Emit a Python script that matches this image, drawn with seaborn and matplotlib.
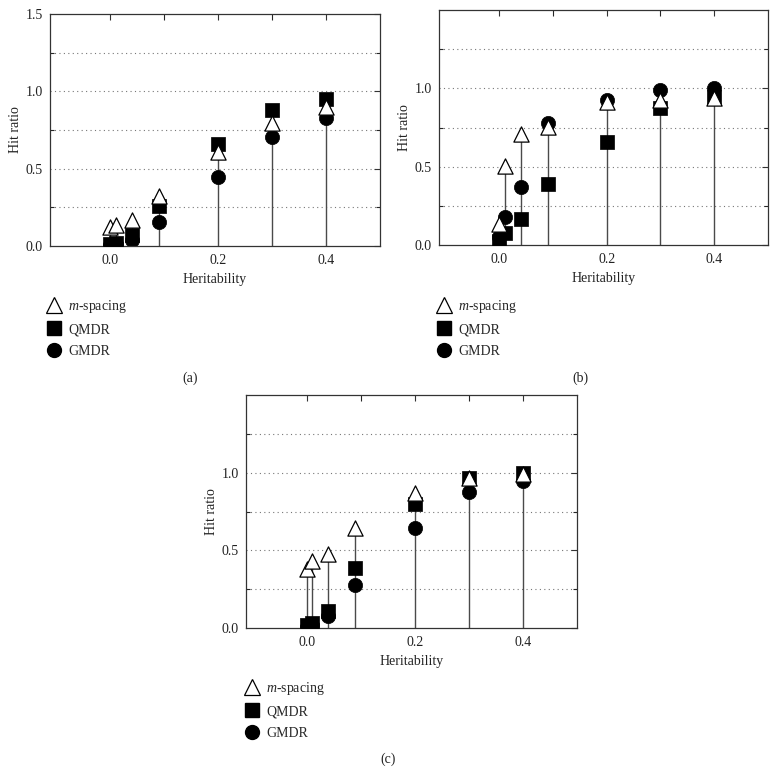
import numpy as np
import pandas as pd
import matplotlib
matplotlib.use("Agg")
import matplotlib.pyplot as plt
import seaborn as sns
from matplotlib.lines import Line2D

# ---- data ----
heritability = [0.0, 0.01, 0.04, 0.09, 0.2, 0.3, 0.4]
methods = ["m-spacing", "QMDR", "GMDR"]

a_mspacing = [0.12, 0.133, 0.17, 0.325, 0.61, 0.794, 0.897]
a_qmdr     = [0.01, 0.02, 0.073, 0.256, 0.66, 0.878, 0.951]
a_gmdr     = [0.005, 0.01, 0.04, 0.153, 0.445, 0.706, 0.828]

b_mspacing = [0.134, 0.506, 0.706, 0.755, 0.91, 0.925, 0.936]
b_qmdr     = [0.028, 0.074, 0.166, 0.39, 0.655, 0.877, 0.947]
b_gmdr     = [0.049, 0.18, 0.372, 0.781, 0.925, 0.99, 1.0]

c_mspacing = [0.382, 0.431, 0.474, 0.646, 0.871, 0.968, 0.994]
c_qmdr     = [0.017, 0.032, 0.107, 0.386, 0.80, 0.968, 0.998]
c_gmdr     = [0.006, 0.017, 0.075, 0.275, 0.644, 0.876, 0.946]

panels = {
    "(a)": (a_mspacing, a_qmdr, a_gmdr),
    "(b)": (b_mspacing, b_qmdr, b_gmdr),
    "(c)": (c_mspacing, c_qmdr, c_gmdr),
}

sns.set_theme(style="white")
plt.rcParams["font.family"] = ["Liberation Serif", "DejaVu Serif"]
plt.rcParams["mathtext.fontset"] = "custom"
plt.rcParams["mathtext.it"] = "Liberation Serif:italic"
plt.rcParams["mathtext.rm"] = "Liberation Serif"

W, H = 782, 773
fig = plt.figure(figsize=(W / 100, H / 100), dpi=100)

def fr(l, t, r, b):
    return [l / W, 1 - b / H, (r - l) / W, (b - t) / H]

boxes = {
    "(a)": fr(50, 14, 380, 246),
    "(b)": fr(439, 10, 768, 245),
    "(c)": fr(246, 395, 577, 628),
}
legend_pos = {"(a)": (46, 298), "(b)": (436, 298), "(c)": (244, 680)}
tag_pos = {"(a)": (190, 378), "(b)": (580, 378), "(c)": (388, 759)}

marker_map = {"m-spacing": "^", "QMDR": "s", "GMDR": "o"}
fs = 10

for tag, (ms, qm, gm) in panels.items():
    ax = fig.add_axes(boxes[tag])
    df = pd.DataFrame({
        "Heritability": heritability * 3,
        "Hit ratio": list(gm) + list(qm) + list(ms),
        "Method": ["GMDR"] * 7 + ["QMDR"] * 7 + ["m-spacing"] * 7,
    })
    # stems
    top = df.groupby("Heritability")["Hit ratio"].max()
    ax.vlines(top.index, 0, top.values, color="#4a4a4a", lw=1.0, zorder=1)
    # markers: circles, squares, then triangles on top
    for meth, z in [("GMDR", 2), ("QMDR", 3)]:
        sub = df[df["Method"] == meth]
        sns.scatterplot(data=sub, x="Heritability", y="Hit ratio", marker=marker_map[meth],
                        color="black", edgecolor="black", s=105 if meth == "GMDR" else 95,
                        linewidth=0.5, ax=ax, zorder=z, legend=False)
    sub = df[df["Method"] == "m-spacing"]
    sns.scatterplot(data=sub, x="Heritability", y="Hit ratio", marker="^",
                    color="white", edgecolor="black", s=120, linewidth=0.9,
                    ax=ax, zorder=4, legend=False)

    ax.set_xlim(-0.112, 0.5)
    ax.set_ylim(0, 1.5)
    ax.set_xticks([0.0, 0.2, 0.4])
    ax.set_xticklabels(["0.0", "0.2", "0.4"], fontsize=fs)
    if tag == "(a)":
        yt = [0.0, 0.5, 1.0, 1.5]
    else:
        yt = [0.0, 0.5, 1.0]
    ax.set_yticks(yt)
    ax.set_yticklabels([f"{v:.1f}" for v in yt], fontsize=fs)
    for g in [0.25, 0.5, 0.75, 1.0, 1.25]:
        ax.axhline(g, color="#777777", lw=0.8, ls=(0, (1, 3)), zorder=0)
    ax.tick_params(axis="both", direction="in", length=4, width=0.8, color="#333333",
                   labelcolor="#222222")
    ax.tick_params(axis="y", right=True, pad=5)
    ax.tick_params(axis="x", top=True, bottom=False, pad=6)
    ax.set_xticks([0.0, 0.1, 0.2, 0.3, 0.4], minor=True)
    ax.tick_params(axis="x", which="minor", top=True, bottom=False, direction="in",
                   length=4, width=0.8)
    ax.set_yticks([0.25, 0.75, 1.25], minor=True)
    ax.tick_params(axis="y", which="minor", left=True, right=True, direction="in",
                   length=3, width=0.8)
    for sp in ax.spines.values():
        sp.set_color("#333333")
        sp.set_linewidth(0.9)
    ax.set_xlabel("Heritability", fontsize=fs, labelpad=4, color="#222222")
    ax.set_ylabel("Hit ratio", fontsize=fs, labelpad=3, color="#222222")

    handles = [
        Line2D([], [], ls="none", marker="^", mfc="white", mec="black", ms=11, mew=0.9),
        Line2D([], [], ls="none", marker="s", mfc="black", mec="black", ms=9.5),
        Line2D([], [], ls="none", marker="o", mfc="black", mec="black", ms=10),
    ]
    lx, ly = legend_pos[tag]
    fig.legend(handles, ["$m$-spacing", "QMDR", "GMDR"], loc="upper left",
               bbox_to_anchor=(lx / W, 1 - ly / H), frameon=False, fontsize=fs,
               handlelength=1.2, handletextpad=0.4, labelspacing=0.6, borderpad=0,
               borderaxespad=0)
    tx, ty = tag_pos[tag]
    fig.text(tx / W, 1 - ty / H, tag, ha="center", va="center", fontsize=fs, color="#222222")

fig.savefig("out.png", dpi=100)
